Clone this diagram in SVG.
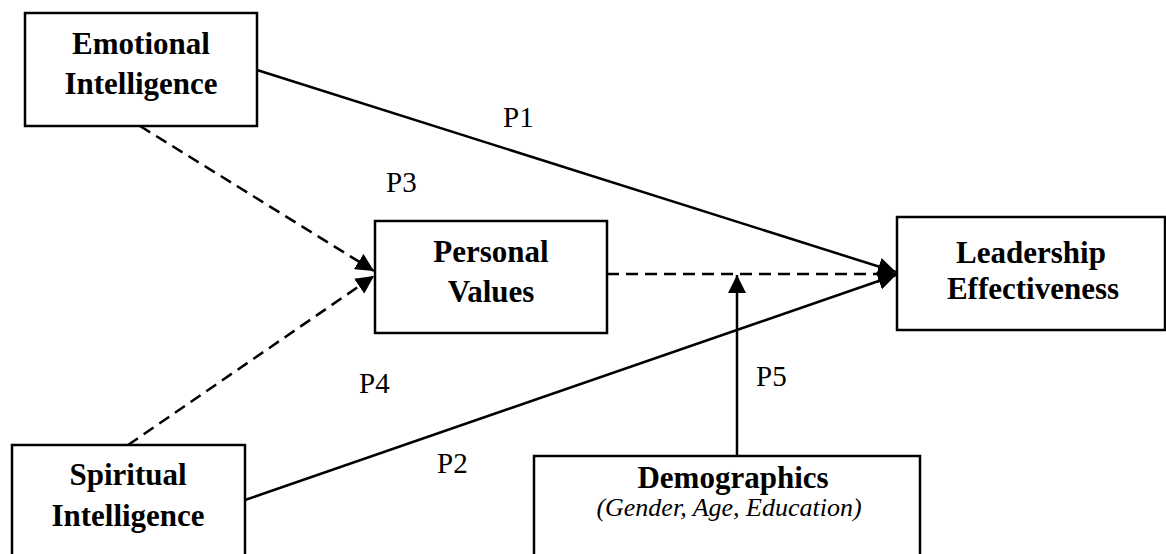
<svg xmlns="http://www.w3.org/2000/svg" width="1166" height="554" viewBox="0 0 1166 554">
  <style>
    .box { fill: #fff; stroke: #000; stroke-width: 2.5; }
    .title { font-family: "Liberation Serif", "Times New Roman", serif; font-weight: bold; font-size: 31px; text-anchor: middle; fill: #000; }
    .sub { font-family: "Liberation Serif", "Times New Roman", serif; font-style: italic; font-size: 26px; text-anchor: middle; fill: #000; }
    .lbl { font-family: "Liberation Serif", "Times New Roman", serif; font-size: 29px; fill: #000; }
    .solid { fill: none; stroke: #000; stroke-width: 2.5; }
    .dash { fill: none; stroke: #000; stroke-width: 2.5; stroke-dasharray: 12 7; }
  </style>
  <defs>
    <marker id="arrow" markerUnits="userSpaceOnUse" markerWidth="19" markerHeight="18" refX="18" refY="9" orient="auto">
      <path d="M0,0 L18,9 L0,18 Z" fill="#000"/>
    </marker>
  </defs>
  <rect width="1166" height="554" fill="#fff"/>

  <g id="connectors">
    <!-- P1: Emotional Intelligence -> Leadership Effectiveness -->
    <line class="solid" x1="257" y1="70" x2="896" y2="272" marker-end="url(#arrow)"/>
    <!-- P2: Spiritual Intelligence -> Leadership Effectiveness -->
    <line class="solid" x1="245" y1="500" x2="896" y2="275" marker-end="url(#arrow)"/>
    <!-- P3: Emotional Intelligence -> Personal Values -->
    <line class="dash" x1="140" y1="126" x2="374" y2="271" marker-end="url(#arrow)"/>
    <!-- P4: Spiritual Intelligence -> Personal Values -->
    <line class="dash" x1="128" y1="445" x2="374" y2="276" marker-end="url(#arrow)"/>
    <!-- Personal Values -> Leadership Effectiveness -->
    <line class="dash" x1="607" y1="274" x2="896" y2="274" marker-end="url(#arrow)"/>
    <!-- P5: Demographics moderating -->
    <line class="solid" x1="737" y1="456" x2="737" y2="275" marker-end="url(#arrow)"/>
  </g>

  <g id="labels">
    <text class="lbl" x="503" y="127">P1</text>
    <text class="lbl" x="386" y="192">P3</text>
    <text class="lbl" x="359" y="393">P4</text>
    <text class="lbl" x="756" y="386">P5</text>
    <text class="lbl" x="437" y="473">P2</text>
  </g>

  <g id="emotional-intelligence">
    <rect class="box" x="25" y="13" width="232" height="113"/>
    <text class="title" x="141" y="54">Emotional</text>
    <text class="title" x="141" y="94">Intelligence</text>
  </g>

  <g id="personal-values">
    <rect class="box" x="375" y="221" width="232" height="112"/>
    <text class="title" x="491" y="262">Personal</text>
    <text class="title" x="491" y="302">Values</text>
  </g>

  <g id="leadership-effectiveness">
    <rect class="box" x="897" y="217" width="268" height="113"/>
    <text class="title" x="1031" y="263">Leadership</text>
    <text class="title" x="1033" y="299">Effectiveness</text>
  </g>

  <g id="spiritual-intelligence">
    <rect class="box" x="12" y="445" width="233" height="120"/>
    <text class="title" x="128" y="485">Spiritual</text>
    <text class="title" x="128" y="526">Intelligence</text>
  </g>

  <g id="demographics">
    <rect class="box" x="534" y="456" width="386" height="110"/>
    <text class="title" x="733" y="488">Demographics</text>
    <text class="sub" x="729" y="516">(Gender, Age, Education)</text>
  </g>
</svg>
